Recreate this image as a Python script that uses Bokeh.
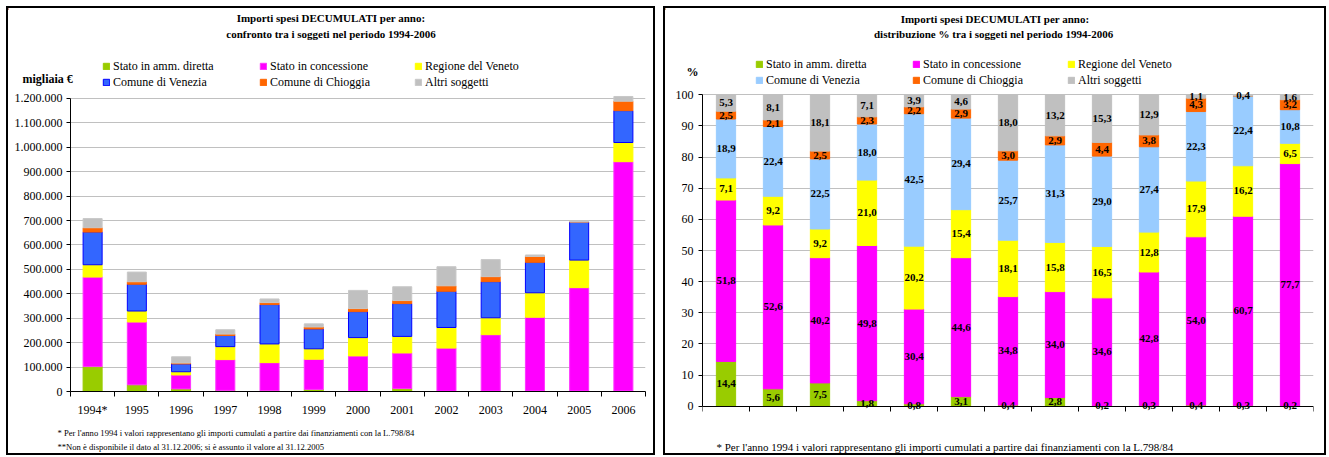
import numpy as np
from bokeh.plotting import figure
from bokeh.models import (Range1d, FixedTicker, Label, Legend, LegendItem,
                          ColumnDataSource, LabelSet)
from bokeh.layouts import row, column
from bokeh.embed import file_html
from bokeh.resources import INLINE
from bokeh.core.properties import value

# ---------------- data ----------------
years = ["1994*", "1995", "1996", "1997", "1998", "1999", "2000",
         "2001", "2002", "2003", "2004", "2005", "2006"]
series_names = ["Stato in amm. diretta", "Stato in concessione", "Regione del Veneto",
                "Comune di Venezia", "Comune di Chioggia", "Altri soggetti"]

# importi spesi decumulati (migliaia di euro)
stato_diretta = [102000, 27400, 10700, 4600, 3000, 8600, 1700, 12000, 1000, 1600, 2200, 2100, 2400]
stato_concessione = [366700, 257200, 57100, 126000, 115200, 123500, 144100, 145900, 176800,
                     231100, 301900, 423100, 938600]
regione_veneto = [50300, 45000, 13100, 53100, 76600, 42700, 74900, 67800, 84300, 69100,
                  100100, 112900, 78500]
comune_venezia = [133800, 109500, 32000, 45500, 161100, 81400, 106400, 134300, 148200,
                  148000, 124700, 156100, 130500]
comune_chioggia = [17700, 10300, 3600, 5800, 8300, 8000, 12400, 12400, 22500, 20500, 24000, 0, 38700]
altri_soggetti = [37500, 39600, 25700, 18000, 14800, 12700, 74500, 56600, 78200, 69700, 6100, 2800, 19300]

# distribuzione %
pct_stato_diretta = [14.4, 5.6, 7.5, 1.8, 0.8, 3.1, 0.4, 2.8, 0.2, 0.3, 0.4, 0.3, 0.2]
pct_stato_concessione = [51.8, 52.6, 40.2, 49.8, 30.4, 44.6, 34.8, 34.0, 34.6, 42.8, 54.0, 60.7, 77.7]
pct_regione_veneto = [7.1, 9.2, 9.2, 21.0, 20.2, 15.4, 18.1, 15.8, 16.5, 12.8, 17.9, 16.2, 6.5]
pct_comune_venezia = [18.9, 22.4, 22.5, 18.0, 42.5, 29.4, 25.7, 31.3, 29.0, 27.4, 22.3, 22.4, 10.8]
pct_comune_chioggia = [2.5, 2.1, 2.5, 2.3, 2.2, 2.9, 3.0, 2.9, 4.4, 3.8, 4.3, 0.0, 3.2]
pct_altri_soggetti = [5.3, 8.1, 18.1, 7.1, 3.9, 4.6, 18.0, 13.2, 15.3, 12.9, 1.1, 0.4, 1.6]

y_ticks_abs = [0, 100000, 200000, 300000, 400000, 500000, 600000, 700000, 800000,
               900000, 1000000, 1100000, 1200000]
y_tick_labels_abs = ["0", "100.000", "200.000", "300.000", "400.000", "500.000", "600.000",
                     "700.000", "800.000", "900.000", "1.000.000", "1.100.000", "1.200.000"]
y_ticks_pct = [0, 10, 20, 30, 40, 50, 60, 70, 80, 90, 100]

title_line1 = "Importi spesi DECUMULATI per anno:"
title_abs_line2 = "confronto tra i soggeti nel periodo 1994-2006"
title_pct_line2 = "distribuzione %  tra i soggeti nel periodo 1994-2006"
unit_abs = "migliaia €"
unit_pct = "%"
note_1994 = "* Per l'anno 1994 i valori rappresentano gli importi cumulati a partire dai finanziamenti con la L.798/84"
note_2006 = "**Non è disponibile il dato al 31.12.2006; si è assunto il valore al 31.12.2005"

colors_abs = ["#99CC00", "#FF00FF", "#FFFF00", "#3366FF", "#FF6600", "#C0C0C0"]
lines_abs = ["#99CC00", "#FF33FF", "#FFFF00", "#0000FF", "#FF6600", "#C8C8C8"]
colors_pct = ["#99CC00", "#FF00FF", "#FFFF00", "#99CCFF", "#FF6600", "#C0C0C0"]

FONT = "Liberation Serif"
keys = ["s0", "s1", "s2", "s3", "s4", "s5"]
x_idx = list(range(len(years)))


def text_fig(w, h):
    f = figure(width=w, height=h, x_range=Range1d(0, w), y_range=Range1d(h, 0),
               x_axis_type=None, y_axis_type=None, output_backend="svg",
               toolbar_location=None, min_border=0, title_location=None,
               frame_align=False)
    f.outline_line_color = None
    f.background_fill_color = "white"
    f.border_fill_color = "white"
    return f


def add_text(f, x, y, text, size, bold=False, align="left"):
    f.add_layout(Label(x=x, y=y, text=text, text_font=FONT, text_font_size=f"{size}px",
                       text_font_style="bold" if bold else "normal",
                       text_align=align, text_baseline="middle", text_color="black"))


def add_legends(f, fills, lines, col_x, row1_y, size):
    H = f.height
    h, sp = 16, 0
    # legend swatches: renderers whose single bar lies outside the visible range
    rs = [f.vbar(x=[-1000], top=[1], width=1, fill_color=fc, line_color=lc)
          for fc, lc in zip(fills, lines)]
    for c in range(3):
        items = [LegendItem(label=series_names[c], renderers=[rs[c]]),
                 LegendItem(label=series_names[c + 3], renderers=[rs[c + 3]])]
        top = row1_y - h / 2
        bottom = top + 2 * h + sp
        lg = Legend(items=items, location=(col_x[c], H - bottom),
                    orientation="vertical", padding=0, margin=0, spacing=sp,
                    glyph_width=8, glyph_height=8, label_height=h, label_standoff=3,
                    label_text_font=FONT, label_text_font_size=f"{size}px",
                    label_text_color="black",
                    border_line_color=None, background_fill_alpha=0)
        f.add_layout(lg)


def make_fig(w, h, L, R, T, B, y_start, y_end, y_ticks, y_overrides, standoff_y, standoff_x):
    p = figure(width=w, height=h, x_range=Range1d(-0.5, len(years) - 0.5),
               y_range=Range1d(y_start, y_end), output_backend="svg", toolbar_location=None,
               min_border_left=L, min_border_right=R, min_border_top=T, min_border_bottom=B,
               title_location=None, frame_align=False)
    p.outline_line_color = None
    p.background_fill_color = "white"
    p.border_fill_color = "white"
    p.xgrid.visible = False
    p.ygrid.grid_line_color = "#C0C0C0"
    p.ygrid.grid_line_width = 1
    p.ygrid.ticker = FixedTicker(ticks=y_ticks[1:])

    xa = p.xaxis[0]
    xa.ticker = FixedTicker(ticks=x_idx, minor_ticks=[i - 0.5 for i in range(len(years) + 1)])
    xa.major_label_overrides = {i: years[i] for i in x_idx}
    if y_start < y_ticks[0]:
        xa.fixed_location = y_ticks[0]
    xa.major_tick_out = 0
    xa.major_tick_in = 0
    xa.minor_tick_out = 5
    xa.minor_tick_in = 0
    xa.minor_tick_line_color = "black"
    xa.axis_line_color = "black"
    xa.major_label_standoff = standoff_x
    xa.major_label_text_font = FONT
    xa.major_label_text_font_size = "12px"
    xa.major_label_text_color = "black"

    ya = p.yaxis[0]
    ya.ticker = FixedTicker(ticks=y_ticks)
    ya.bounds = (y_ticks[0], y_ticks[-1])
    if y_overrides:
        ya.major_label_overrides = y_overrides
    ya.major_tick_out = 4
    ya.major_tick_in = 0
    ya.minor_tick_line_color = None
    ya.axis_line_color = "black"
    ya.major_tick_line_color = "black"
    ya.major_label_standoff = standoff_y
    ya.major_label_text_font = FONT
    ya.major_label_text_font_size = "12px"
    ya.major_label_text_color = "black"
    return p


PANEL_STYLE = {"border": "2px solid black", "box-sizing": "content-box", "background": "white"}

# ---------------- left panel (absolute values) ----------------
W1, HH1, HM1, HF1 = 645, 82, 330, 33
head1 = text_fig(W1, HH1)
add_text(head1, W1 / 2, 9, title_line1, 11, bold=True, align="center")
add_text(head1, W1 / 2, 25, title_abs_line2, 11, bold=True, align="center")
add_text(head1, 14, 70, unit_abs, 12, bold=True)
add_legends(head1, colors_abs, lines_abs, [94, 251, 406], 58, 12)

p1 = make_fig(W1, HM1, 62, 8, 5, 29, 0, 1212000, y_ticks_abs,
              {t: s for t, s in zip(y_ticks_abs, y_tick_labels_abs)}, 4, 6)
src1 = ColumnDataSource(dict(x=x_idx, s0=stato_diretta, s1=stato_concessione, s2=regione_veneto,
                             s3=comune_venezia, s4=comune_chioggia, s5=altri_soggetti))
p1.vbar_stack(keys, x="x", width=0.43, source=src1, fill_color=colors_abs,
              line_color=lines_abs, line_width=1)

foot1 = text_fig(W1, HF1)
add_text(foot1, 49, 12, note_1994, 8.6)
add_text(foot1, 49, 26, note_2006, 8.6)

# ---------------- right panel (percentages) ----------------
W2, HH2, HM2, HF2 = 659, 80, 351, 14
head2 = text_fig(W2, HH2)
add_text(head2, W2 / 2, 10, title_line1, 11, bold=True, align="center")
add_text(head2, W2 / 2, 25, title_pct_line2, 11, bold=True, align="center")
add_text(head2, 27, 63, unit_pct, 12, bold=True, align="center")
add_legends(head2, colors_pct, colors_pct, [90, 247, 402], 56, 12)

p2 = make_fig(W2, HM2, 37, 11, 0, 27, -2, 102, y_ticks_pct, None, 5, 12)
pct_series = [pct_stato_diretta, pct_stato_concessione, pct_regione_veneto,
              pct_comune_venezia, pct_comune_chioggia, pct_altri_soggetti]
src2 = ColumnDataSource(dict(x=x_idx, **{k: s for k, s in zip(keys, pct_series)}))
p2.vbar_stack(keys, x="x", width=0.41, source=src2, fill_color=colors_pct,
              line_color=colors_pct, line_width=1)

lx, ly, lt = [], [], []
base = np.zeros(len(years))
for s in pct_series:
    arr = np.array(s, dtype=float)
    for i in x_idx:
        if arr[i] > 0:
            lx.append(i)
            ly.append(base[i] + arr[i] / 2)
            lt.append(f"{arr[i]:.1f}".replace(".", ","))
    base += arr
p2.add_layout(LabelSet(x="x", y="y", text="t", source=ColumnDataSource(dict(x=lx, y=ly, t=lt)),
                       text_align="center", text_baseline="middle", text_font=value(FONT),
                       text_font_style="bold", text_font_size="11px", text_color="black"))

foot2 = text_fig(W2, HF2)
add_text(foot2, 51, 7, note_1994, 11)

left_panel = column(head1, p1, foot1, styles=PANEL_STYLE)
right_panel = column(head2, p2, foot2, styles=PANEL_STYLE)
layout = row(left_panel, right_panel, spacing=8, margin=(6, 0, 0, 6))
open("out.html", "w").write(file_html(layout, INLINE))
